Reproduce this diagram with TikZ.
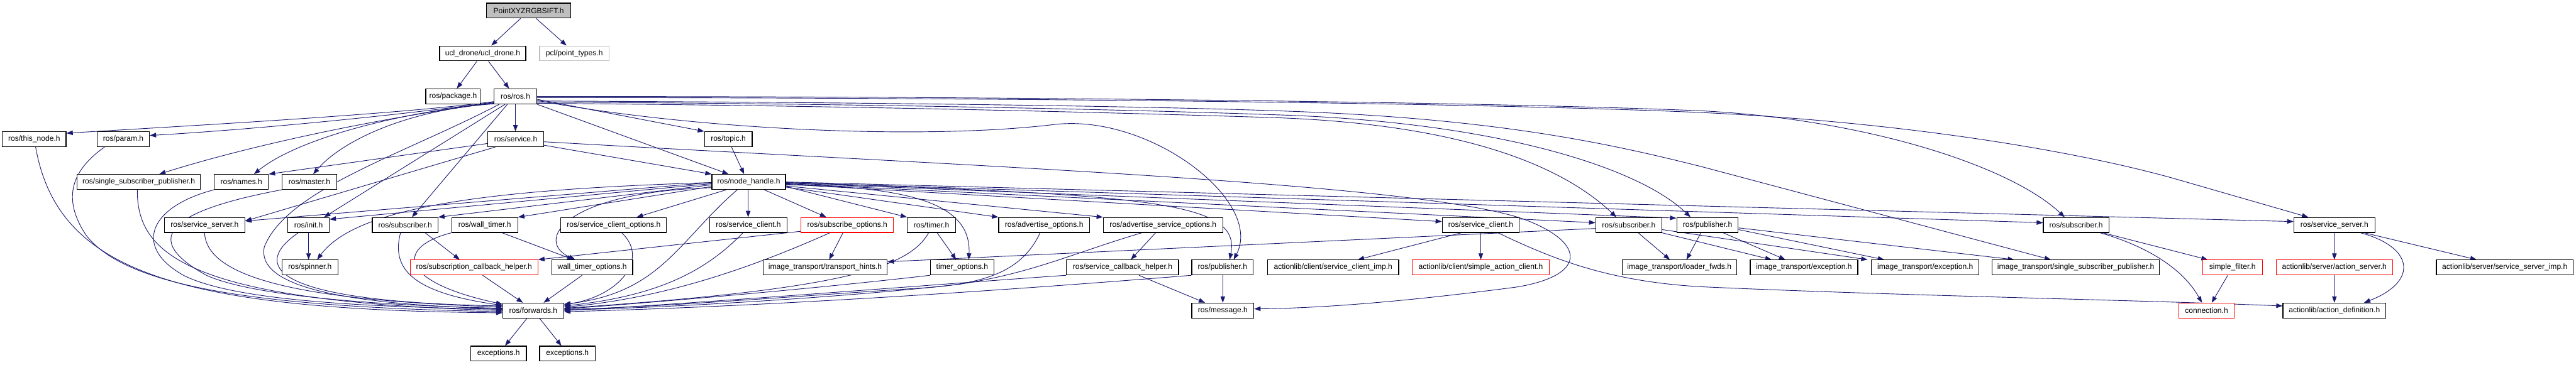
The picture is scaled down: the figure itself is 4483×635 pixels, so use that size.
\documentclass[tikz,border=0pt]{standalone}
\usepackage{fontspec}
\setmainfont{Liberation Sans}
\usetikzlibrary{arrows.meta}
\definecolor{edgecol}{HTML}{191970}
\definecolor{redc}{HTML}{FF0000}
\definecolor{grayc}{HTML}{BFBFBF}
\pgfdeclarelayer{bg}
\pgfsetlayers{bg,main}
\newcommand\fnt{\fontsize{13.2pt}{15pt}\selectfont}
\newcommand\nd[6][]{\node[box,#1,minimum width={(#4-#3)*1pt}] (#2) at ({(#3+#4)/2},#5) {#6};}
\begin{document}
\begin{tikzpicture}[x=1pt,y=-1pt,
  box/.style={draw=black,line width=1.3pt,fill=white,inner sep=0pt,minimum height=26pt,font=\fnt},
  rbox/.style={draw=redc},
  e/.style={draw=edgecol,line width=1pt,-{Triangle[length=11pt,width=8pt]}}]
\useasboundingbox (0,0) rectangle (4483,635);
% nodes
\nd[fill=grayc]{P}{847}{993}{18.5}{PointXYZRGBSIFT.h}
\nd{ucl}{765}{915}{93}{ucl\_drone/ucl\_drone.h}
\nd[draw=grayc]{pcl}{939}{1060}{93}{pcl/point\_types.h}
\nd{pkg}{741}{836}{168}{ros/package.h}
\nd{ros}{860}{934}{168}{ros/ros.h}
\nd{thisnode}{4}{115}{242.5}{ros/this\_node.h}
\nd{param}{169}{260}{242.5}{ros/param.h}
\nd{service}{849}{946}{242.5}{ros/service.h}
\nd{topic}{1226}{1309}{242.5}{ros/topic.h}
\nd{ssp}{134}{349}{317}{ros/single\_subscriber\_publisher.h}
\nd{names}{373}{467}{317}{ros/names.h}
\nd{master}{491}{586}{317}{ros/master.h}
\nd{nh}{1239}{1367}{317}{ros/node\_handle.h}
\nd{sserver1}{286}{426}{392}{ros/service\_server.h}
\nd{init}{501}{573}{392}{ros/init.h}
\nd{sub1}{648}{762}{392}{ros/subscriber.h}
\nd{wtimer}{786}{901}{392}{ros/wall\_timer.h}
\nd{sco}{976}{1160}{392}{ros/service\_client\_options.h}
\nd{sclient1}{1235}{1370}{392}{ros/service\_client.h}
\nd[rbox]{subopt}{1394}{1555}{392}{ros/subscribe\_options.h}
\nd{timer}{1579}{1663}{392}{ros/timer.h}
\nd{advopt}{1738}{1896}{392}{ros/advertise\_options.h}
\nd{advsopt}{1920}{2128}{392}{ros/advertise\_service\_options.h}
\nd{sclient2}{2510}{2644}{392}{ros/service\_client.h}
\nd{sub2}{2777}{2892}{392}{ros/subscriber.h}
\nd{pub1}{2918}{3025}{392}{ros/publisher.h}
\nd{sub3}{3556}{3670}{392}{ros/subscriber.h}
\nd{sserver2}{3992}{4133}{392}{ros/service\_server.h}
\nd{spinner}{491}{588}{466}{ros/spinner.h}
\nd[rbox]{sch}{714}{936}{466}{ros/subscription\_callback\_helper.h}
\nd{wto}{960}{1101}{466}{wall\_timer\_options.h}
\nd{tht}{1328}{1544}{466}{image\_transport/transport\_hints.h}
\nd{topt}{1619}{1730}{466}{timer\_options.h}
\nd{sch2}{1856}{2051}{466}{ros/service\_callback\_helper.h}
\nd{pub2}{2074}{2181}{466}{ros/publisher.h}
\nd{scimp}{2206}{2434}{466}{actionlib/client/service\_client\_imp.h}
\nd[rbox]{sac}{2458}{2696}{466}{actionlib/client/simple\_action\_client.h}
\nd{lf}{2823}{3022}{466}{image\_transport/loader\_fwds.h}
\nd{ex1}{3046}{3233}{466}{image\_transport/exception.h}
\nd{ex2}{3257}{3444}{466}{image\_transport/exception.h}
\nd{ssp2}{3467}{3758}{466}{image\_transport/single\_subscriber\_publisher.h}
\nd[rbox]{sfilter}{3833}{3937}{466}{simple\_filter.h}
\nd[rbox]{aserver}{3961}{4164}{466}{actionlib/server/action\_server.h}
\nd{ssimp}{4240}{4478}{466}{actionlib/server/service\_server\_imp.h}
\nd{fwd}{875}{981}{541}{ros/forwards.h}
\nd{msg}{2074}{2182}{541}{ros/message.h}
\nd[rbox]{conn}{3792}{3888}{541}{connection.h}
\nd{adef}{3973}{4152}{541}{actionlib/action\_definition.h}
\nd{exc1}{819}{916}{616}{exceptions.h}
\nd{exc2}{939}{1036}{616}{exceptions.h}
\begin{pgfonlayer}{bg}
\fill[white] (0,0) rectangle (4483,635);
% top edges
\draw[e] (P.south -| 906,0) -- (ucl.north -| 855,0);
\draw[e] (P.south -| 933,0) -- (pcl.north -| 986,0);
\draw[e] (ucl.south -| 830,0) -- (pkg.north -| 795,0);
\draw[e] (ucl.south -| 850,0) -- (ros.north -| 886,0);
\draw[e] (ros.south) -- (service.north -| ros.south);
\draw[e] (ros.east |- 0,173) -- (topic.north west);
\draw[e] (ros.south east) -- (nh.north -| 1268,0);
\draw[e] (service.east |- 0,253) -- (nh.north west);
\draw[e] (topic.south -| 1273,0) -- (nh.north -| 1295,0);
% ros to left
\draw[e] (ros.west |- 0,177) .. controls (700,198) and (400,215) .. (thisnode.east |- 0,232);
\draw[e] (ros.west |- 0,178) .. controls (700,200) and (450,225) .. (param.east |- 0,236);
\draw[e] (ros.west |- 0,179) .. controls (650,207) and (430,255) .. (ssp.north -| 277,0);
\draw[e] (ros.west |- 0,180) .. controls (700,195) and (520,240) .. (names.north -| 442,0);
\draw[e] (ros.west |- 0,181) .. controls (720,190) and (600,240) .. (master.north -| 545,0);
\draw[e] (service.west |- 0,250) -- (names.north east);
\draw[e] (service.south -| 862,0) -- (sserver1.east |- 0,385);
\draw[e] (ros.south -| 879,0) -- (init.north -| 564,0);
\draw[e] (ros.south -| 883,0) -- (sub1.north -| 717,0);
\draw[e] (ros.south -| 869,0) .. controls (700,270) and (500,330) .. (460,430) .. controls (445,500) and (600,530) .. (fwd.west |- 0,538);
% left to fwd
\draw[e] (thisnode.south -| 62,0) .. controls (100,470) and (300,540) .. (fwd.west |- 0,545);
\draw[e] (param.south -| 182,0) .. controls (120,300) and (110,350) .. (150,410) .. controls (220,500) and (450,535) .. (fwd.west |- 0,543);
\draw[e] (ssp.south -| 239,0) .. controls (238,440) and (320,525) .. (fwd.west |- 0,541);
\draw[e] (names.south west) .. controls (260,360) and (230,430) .. (320,480) .. controls (420,530) and (700,535) .. (fwd.west |- 0,539);
\draw[e] (master.south west) .. controls (280,370) and (250,420) .. (360,480) .. controls (450,520) and (700,533) .. (fwd.west |- 0,537);
\draw[e] (sserver1.south) .. controls (360,500) and (600,525) .. (fwd.west |- 0,535);
\draw[e] (init.south -| 519,0) .. controls (440,460) and (460,525) .. (fwd.west |- 0,533);
\draw[e] (sub1.south -| 697,0) .. controls (680,470) and (720,510) .. (fwd.west |- 0,532);
\draw[e] (wtimer.south west) .. controls (690,430) and (690,490) .. (fwd.west |- 0,530);
\draw[e] (sch.south -| 840,0) -- (fwd.north -| 910,0);
\draw[e] (wto.south -| 1013,0) -- (fwd.north -| 946,0);
% right to fwd
\draw[e] (sco.south -| 1082,0) .. controls (1130,450) and (1080,515) .. (fwd.east |- 0,531);
\draw[e] (nh.south -| 1283,0) .. controls (1180,420) and (1150,510) .. (fwd.east |- 0,530);
\draw[e] (sclient1.south -| 1293,0) .. controls (1230,470) and (1150,515) .. (fwd.east |- 0,533);
\draw[e] (subopt.south -| 1444,0) .. controls (1300,470) and (1150,520) .. (fwd.east |- 0,535);
\draw[e] (timer.south -| 1616,0) .. controls (1580,470) and (1450,505) .. (fwd.east |- 0,537);
\draw[e] (topt.south west) .. controls (1400,505) and (1100,530) .. (fwd.east |- 0,538);
\draw[e] (advopt.south -| 1810,0) .. controls (1780,470) and (1720,495) .. (1600,502) .. controls (1400,515) and (1150,535) .. (fwd.east |- 0,539);
\draw[e] (advsopt.south -| 1987,0) .. controls (1870,440) and (1800,475) .. (1671,495) .. controls (1500,515) and (1200,535) .. (fwd.east |- 0,540);
\draw[e] (sch2.south west) .. controls (1700,490) and (1200,530) .. (fwd.east |- 0,541);
\draw[e] (pub2.south west) .. controls (1700,510) and (1300,535) .. (fwd.east |- 0,543);
\draw[e] (fwd.south -| 917,0) -- (exc1.north -| 879,0);
\draw[e] (fwd.south -| 939,0) -- (exc2.north -| 977,0);
% misc left
\draw[e] (sub1.south -| 740,0) -- (sch.north -| 800,0);
\draw[e] (wtimer.south -| 874,0) -- (wto.north -| 998,0);
\draw[e] (init.south) -- (init.south |- spinner.north);
% node_handle outgoing
\draw[e] (nh.west |- 0,318) .. controls (850,330) and (620,360) .. (spinner.north -| 552,0);
\draw[e] (nh.west |- 0,318) -- (sserver1.east |- 0,385);
\draw[e] (nh.west |- 0,320) -- (init.east |- 0,382);
\draw[e] (nh.west |- 0,322) -- (sub1.north east);
\draw[e] (nh.west |- 0,325) -- (wtimer.north east);
\draw[e] (nh.west |- 0,327) .. controls (980,335) and (930,420) .. (wto.north -| 1001,0);
\draw[e] (nh.south -| 1264,0) -- (sco.north -| 1108,0);
\draw[e] (nh.south -| 1302,0) -- (sclient1.north -| 1302,0);
\draw[e] (nh.south -| 1330,0) -- (subopt.north -| 1438,0);
\draw[e] (nh.east |- 0,325) -- (timer.north west);
\draw[e] (nh.east |- 0,322) .. controls (1600,325) and (1690,360) .. (topt.north -| 1686,0);
\draw[e] (nh.east |- 0,326) -- (advopt.north west);
\draw[e] (nh.east |- 0,324) -- (advsopt.north west);
\draw[e] (nh.east |- 0,318) .. controls (2000,340) and (2160,350) .. (pub2.north -| 2140,0);
\draw[e] (nh.east |- 0,321) -- (sclient2.west |- 0,386);
\draw[e] (nh.east |- 0,320) -- (sub2.west |- 0,388);
\draw[e] (nh.east |- 0,319) -- (pub1.west |- 0,380);
\draw[e] (nh.east |- 0,318) -- (sub3.west |- 0,388);
\draw[e] (nh.east |- 0,317) -- (sserver2.west |- 0,386);
% ros long edges to the right
\draw[e] (ros.east |- 0,175) .. controls (1200,225) and (1600,245) .. (1834,217) .. controls (2000,197) and (2200,350) .. (pub2.north -| 2147,0);
\draw[e] (ros.east |- 0,168) .. controls (1800,168) and (2600,178) .. (2960,193) .. controls (3250,208) and (3500,290) .. (sub3.north -| 3593,0);
\draw[e] (ros.east |- 0,170) .. controls (1800,170) and (2600,180) .. (2960,196) .. controls (3300,212) and (3600,260) .. (3780,310) -- (sserver2.north -| 4017,0);
\draw[e] (ros.east |- 0,176) .. controls (1500,178) and (2000,185) .. (2220,193) .. controls (2600,205) and (2800,250) .. (2960,290) -- (ssp2.north -| 3569,0);
\draw[e] (ros.east |- 0,178) .. controls (1500,180) and (2000,192) .. (2220,200) .. controls (2600,212) and (2850,290) .. (pub1.north -| 2942,0);
\draw[e] (ros.east |- 0,180) .. controls (1500,184) and (2000,198) .. (2220,205) .. controls (2550,217) and (2720,290) .. (sub2.north -| 2813,0);
% service to message
\draw[e] (service.east |- 0,247) .. controls (1700,290) and (2500,320) .. (2660,385) .. controls (2760,425) and (2760,480) .. (2640,500) .. controls (2450,525) and (2300,537) .. (msg.east |- 0,538);
% mid cluster
\draw[e] (subopt.west |- 0,403) -- (sch.north east);
\draw[e] (subopt.south -| 1467,0) -- (tht.north -| 1443,0);
\draw[e] (timer.south -| 1631,0) -- (topt.north -| 1664,0);
\draw[e] (advsopt.south -| 2011,0) -- (sch2.north -| 1968,0);
\draw[e] (sch2.south -| 1982,0) -- (msg.north -| 2097,0);
\draw[e] (pub2.south -| 2128,0) -- (msg.north -| 2128,0);
% right cluster
\draw[e] (sub2.west |- 0,398) -- (tht.east |- 0,456);
\draw[e] (sub2.south -| 2851,0) -- (lf.north -| 2906,0);
\draw[e] (sub2.south east) -- (ex1.north -| 3083,0);
\draw[e] (sub2.east |- 0,400) -- (ex2.north -| 3250,0);
\draw[e] (pub1.south -| 2960,0) -- (lf.north -| 2935,0);
\draw[e] (pub1.south -| 2999,0) -- (ex1.north -| 3107,0);
\draw[e] (pub1.east |- 0,400) -- (ex2.north -| 3279,0);
\draw[e] (pub1.east |- 0,397) -- (ssp2.north -| 3505,0);
\draw[e] (sclient2.south -| 2543,0) -- (scimp.north -| 2363,0);
\draw[e] (sclient2.south) -- (sac.north);
\draw[e] (sclient2.south -| 2607,0) .. controls (2700,450) and (2800,492) .. (2970,500) .. controls (3300,515) and (3700,522) .. (adef.west |- 0,533);
\draw[e] (sub3.south -| 3660,0) -- (sfilter.north -| 3842,0);
\draw[e] (sub3.south -| 3655,0) .. controls (3740,430) and (3800,470) .. (conn.north -| 3832,0);
\draw[e] (sfilter.south -| 3877,0) -- (conn.north -| 3849,0);
\draw[e] (sserver2.south) -- (aserver.north);
\draw[e] (sserver2.south -| 4108,0) .. controls (4200,430) and (4210,490) .. (adef.north -| 4114,0);
\draw[e] (sserver2.south -| 4115,0) -- (ssimp.north -| 4310,0);
\draw[e] (aserver.south) -- (adef.north);
\end{pgfonlayer}
\end{tikzpicture}
\end{document}
